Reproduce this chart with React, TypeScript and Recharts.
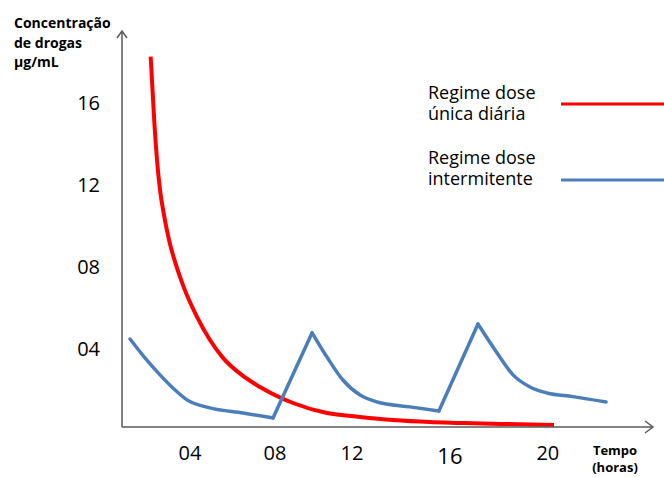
import React from 'react';
import { LineChart, Line, XAxis, YAxis } from 'recharts';

// Concentration curves (x in hours, y in µg/mL)
const singleDose = [
  { x: 1.351, y: 18.05 },
  { x: 1.436, y: 16.44 },
  { x: 1.53, y: 14.73 },
  { x: 1.648, y: 13.02 },
  { x: 1.789, y: 11.56 },
  { x: 1.977, y: 10.34 },
  { x: 2.213, y: 9.12 },
  { x: 2.542, y: 7.9 },
  { x: 2.919, y: 6.78 },
  { x: 3.531, y: 5.37 },
  { x: 4.143, y: 4.24 },
  { x: 4.755, y: 3.37 },
  { x: 5.697, y: 2.49 },
  { x: 6.497, y: 1.95 },
  { x: 8.051, y: 1.17 },
  { x: 9.652, y: 0.68 },
  { x: 11.205, y: 0.49 },
  { x: 12.759, y: 0.34 },
  { x: 14.501, y: 0.24 },
  { x: 15.913, y: 0.2 },
  { x: 17.797, y: 0.15 },
  { x: 20.339, y: 0.1 },
];

// intermittent dosing: three decays joined by two straight rises
const blueDecay1 = [
  { x: 0.38, y: 4.29 },
  { x: 1.08, y: 3.37 },
  { x: 1.79, y: 2.54 },
  { x: 2.5, y: 1.8 },
  { x: 3.06, y: 1.32 },
  { x: 4.14, y: 0.93 },
  { x: 5.7, y: 0.68 },
  { x: 7.11, y: 0.44 },
];
const blueRise1 = [
  { x: 7.11, y: 0.44 },
  { x: 8.95, y: 4.59 },
];
const blueDecay2 = [
  { x: 8.95, y: 4.59 },
  { x: 9.65, y: 3.41 },
  { x: 10.4, y: 2.29 },
  { x: 11.21, y: 1.56 },
  { x: 12.01, y: 1.22 },
  { x: 13.56, y: 0.98 },
  { x: 14.92, y: 0.78 },
];
const blueRise2 = [
  { x: 14.92, y: 0.78 },
  { x: 16.76, y: 5.02 },
];
const blueDecay3 = [
  { x: 16.76, y: 5.02 },
  { x: 17.66, y: 3.61 },
  { x: 18.41, y: 2.54 },
  { x: 19.21, y: 1.95 },
  { x: 20.01, y: 1.66 },
  { x: 21.23, y: 1.48 },
  { x: 22.79, y: 1.22 },
];

// tick labels sit where the drawing put them, which is not evenly spaced
const xTickValues = [3.2, 7.2, 10.83, 15.44, 20.05];
const xTickLabels = ['04', '08', '12', '16', '20'];
const yTickValues = [4, 8, 12, 16];
const yTickLabels = ['04', '08', '12', '16'];

const legendLines = [
  ['Regime dose', 'única diária'],
  ['Regime dose', 'intermitente'],
];
const yTitle = ['Concentração', 'de drogas', 'µg/mL'];
const xTitle = ['Tempo', '(horas)'];

const RED = '#ff0000';
const BLUE = '#4a7ebb';
const AXIS = '#595959';
const FONT = '"Open Sans", sans-serif';

const W = 664;
const H = 477;

const XTick = (props: any) => {
  const { x, y, index } = props;
  const big = xTickLabels[index] === '16';
  return (
    <text x={x} y={y + (big ? 2 : 0)} dy="0.71em" textAnchor="middle" fontFamily={FONT}
      fontSize={big ? 22 : 20} fill="#000">
      {xTickLabels[index]}
    </text>
  );
};

const YTick = (props: any) => {
  const { x, y, index } = props;
  return (
    <text x={x} y={y + 4} dy="0.36em" textAnchor="end" fontFamily={FONT} fontSize={20} fill="#000">
      {yTickLabels[index]}
    </text>
  );
};

const blueParts = [
  { data: blueDecay1, type: 'monotone' },
  { data: blueRise1, type: 'linear' },
  { data: blueDecay2, type: 'monotone' },
  { data: blueRise2, type: 'linear' },
  { data: blueDecay3, type: 'monotone' },
];

export default function App() {
  return (
    <div style={{ position: 'absolute', left: 0, top: 0, width: W, height: H, background: '#fff' }}>
      <LineChart width={W} height={H} margin={{ top: 31, right: 11, bottom: 0, left: 0 }}>
        <XAxis
          type="number"
          dataKey="x"
          domain={[0, 25]}
          ticks={xTickValues}
          tick={<XTick />}
          tickLine={false}
          tickSize={0}
          tickMargin={19}
          height={50}
          axisLine={{ stroke: AXIS, strokeWidth: 1.5 }}
          allowDataOverflow
        />
        <YAxis
          type="number"
          dataKey="y"
          domain={[0, 19.3]}
          ticks={yTickValues}
          tick={<YTick />}
          tickLine={false}
          tickSize={0}
          tickMargin={22}
          width={122}
          axisLine={{ stroke: AXIS, strokeWidth: 1.5 }}
          allowDataOverflow
        />
        <Line data={singleDose} dataKey="y" type="monotone" stroke={RED} strokeWidth={4}
          dot={false} isAnimationActive={false} />
        {blueParts.map((p, i) => (
          <Line key={i} data={p.data} dataKey="y" type={p.type as any} stroke={BLUE} strokeWidth={3.5}
            strokeLinecap="round" dot={false} isAnimationActive={false} />
        ))}
      </LineChart>

      <svg width={W} height={H} style={{ position: 'absolute', left: 0, top: 0, pointerEvents: 'none' }}>
        {/* arrow heads */}
        <polyline points="117,38 122,31 127,38" fill="none" stroke={AXIS} strokeWidth={1.5} />
        <polyline points="645,421 653,427 645,433" fill="none" stroke={AXIS} strokeWidth={1.5} />

        {/* axis titles */}
        {yTitle.map((t, i) => (
          <text key={t} x={14} y={28 + i * 19.5} fontFamily={FONT} fontWeight={700} fontSize={14} fill="#000">
            {t}
          </text>
        ))}
        {xTitle.map((t, i) => (
          <text key={t} x={615} y={455 + i * 17} textAnchor="middle" fontFamily={FONT} fontWeight={700}
            fontSize={13} fill="#000">
            {t}
          </text>
        ))}

        {/* legend */}
        {legendLines.map((lines, i) => (
          <g key={i}>
            {lines.map((t, j) => (
              <text key={j} x={428} y={99 + i * 65 + j * 21} fontFamily={FONT} fontSize={18} fill="#000">
                {t}
              </text>
            ))}
            <line x1={561} x2={664} y1={104 + i * 76} y2={104 + i * 76}
              stroke={i === 0 ? RED : BLUE} strokeWidth={3} />
          </g>
        ))}
      </svg>
    </div>
  );
}
